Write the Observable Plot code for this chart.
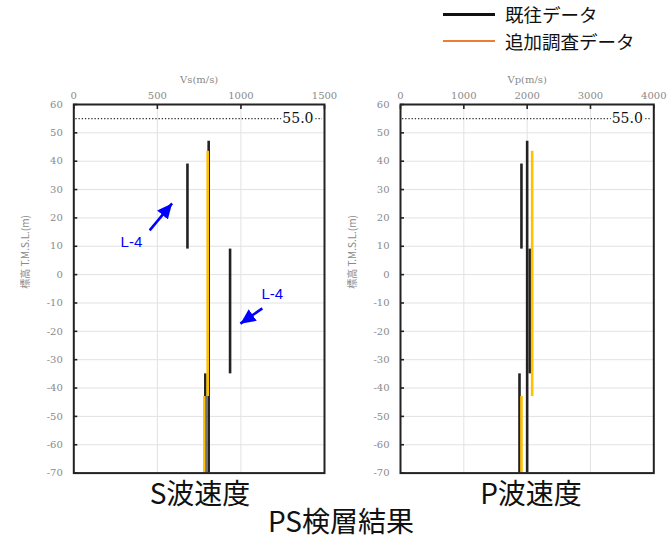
<!DOCTYPE html>
<html>
<head>
<meta charset="utf-8">
<script src="https://cdn.jsdelivr.net/npm/d3@7"></script>
<script src="https://cdn.jsdelivr.net/npm/@observablehq/plot@0.6"></script>
<style>
  html, body { margin: 0; padding: 0; background: #fff; }
  #root { position: relative; width: 668px; height: 540px; overflow: hidden; font-family: "Noto Sans CJK JP", "Noto Sans", sans-serif; }
  .panel { position: absolute; top: 60px; }
  .legend-row { position: absolute; left: 443px; height: 20px; display: flex; align-items: center; font-size: 18.5px; color: #111; white-space: nowrap; }
  .legend-line { display: inline-block; width: 52px; margin-right: 10px; }
  .caption { position: absolute; font-size: 28px; line-height: 28px; color: #111; text-align: center; white-space: nowrap; }
</style>
</head>
<body>
<div id="root">
  <div id="legend"></div>
  <div id="left" class="panel" style="left:0px"></div>
  <div id="right" class="panel" style="left:334px"></div>
  <div id="captions"></div>
</div>
<script>
// ---- data ----
const seriesNames = ["既往データ", "追加調査データ"];
const seriesColors = ["#111111", "#ED7D31"];
const lineColors = ["#222222", "#FFC000"];

// existing survey (既往データ) segments
const existingTop    = [39, 9, -35, 47];
const existingBottom = [9, -35, -70, -70];
const existingVs     = [680, 935, 787, 807];
const existingVp     = [1910, 2042, 1879, 2000];

// additional survey (追加調査データ) segments
const addedTop    = [43.5, -43];
const addedBottom = [-43, -70];
const addedVs     = [801, 781];
const addedVp     = [2079, 1910];

// axes
const yTicks  = [-70, -60, -50, -40, -30, -20, -10, 0, 10, 20, 30, 40, 50, 60];
const vsTicks = [0, 500, 1000, 1500];
const vpTicks = [0, 1000, 2000, 3000, 4000];
const vsLabel = "Vs(m/s)";
const vpLabel = "Vp(m/s)";
const yLabel  = "標高 T.M.S.L.(m)";

// reference level
const levelValues = [55];
const levelLabels = ["55.0"];

// L-4 annotations on the Vs panel (data coords)
const noteText = ["L-4", "L-4"];
const noteTextX = [345, 1188];
const noteTextY = [11.4, -7];
const noteFromX = [454, 1128];
const noteFromY = [15.6, -11.9];
const noteToX   = [588, 997];
const noteToY   = [25.1, -17.3];

const panelTitles = ["S波速度", "P波速度"];
const figureTitle = "PS検層結果";

// ---- build tables ----
const existing = existingTop.map((t, i) => ({top: t, bottom: existingBottom[i], vs: existingVs[i], vp: existingVp[i]}));
const added = addedTop.map((t, i) => ({top: t, bottom: addedBottom[i], vs: addedVs[i], vp: addedVp[i]}));
const levels = levelValues.map((v, i) => ({y: v, label: levelLabels[i]}));
const notes = noteText.map((t, i) => ({text: t, tx: noteTextX[i], ty: noteTextY[i], x1: noteFromX[i], y1: noteFromY[i], x2: noteToX[i], y2: noteToY[i]}));

const serif = "'DejaVu Serif', 'Liberation Serif', serif";
const plain = d => String(d);

function triangleMarker(color) {
  const ns = "http://www.w3.org/2000/svg";
  const m = document.createElementNS(ns, "marker");
  m.setAttribute("viewBox", "-15 -7 15 14");
  m.setAttribute("markerUnits", "userSpaceOnUse");
  m.setAttribute("markerWidth", "15");
  m.setAttribute("markerHeight", "14");
  m.setAttribute("refX", "0");
  m.setAttribute("refY", "0");
  m.setAttribute("orient", "auto");
  const p = document.createElementNS(ns, "path");
  p.setAttribute("d", "M-15,-7L0,0L-15,7Z");
  p.setAttribute("fill", color);
  p.setAttribute("stroke", "none");
  m.appendChild(p);
  return m;
}

function panel({key, xDomain, xTicks, xLabel, marginLeft, marginRight, withNotes}) {
  const marks = [
    Plot.gridX(xTicks, {stroke: "#e2e2e2", strokeOpacity: 1}),
    Plot.gridY(yTicks, {stroke: "#e2e2e2", strokeOpacity: 1}),
    Plot.axisX(xTicks, {anchor: "top", tickSize: 0, tickPadding: 6, label: null, fill: "#8a8a8a", fontFamily: serif, fontSize: 10, tickFormat: plain}),
    Plot.axisX(xTicks, {anchor: "top", tickSize: 4, dy: 4, fill: "none", label: null, stroke: "#222", strokeWidth: 1.6}),
    Plot.axisY(yTicks, {anchor: "left", tickSize: 0, tickPadding: 11, label: null, fill: "#8a8a8a", fontFamily: serif, fontSize: 10, tickFormat: plain}),
    Plot.axisY(yTicks, {anchor: "left", tickSize: 4, dx: 4, fill: "none", label: null, stroke: "#222", strokeWidth: 1.6}),
    Plot.text([xLabel], {text: d => d, frameAnchor: "top", dy: -29, fill: "#8a8a8a", fontFamily: serif, fontSize: 10}),
    Plot.text([yLabel], {text: d => d, frameAnchor: "left", rotate: -90, dx: -48, fill: "#8a8a8a", fontFamily: "'Noto Sans CJK JP', serif", fontSize: 10}),
    Plot.ruleY(levels, {y: "y", stroke: "#333", strokeWidth: 1.3, strokeDasharray: "1.3,1.9", inset: 2}),
    Plot.text(levels, {y: "y", text: "label", frameAnchor: "right", textAnchor: "end", dx: -11, fill: "#111", stroke: "white", strokeWidth: 5, fontFamily: serif, fontSize: 14}),
    Plot.ruleX(existing, {x: key, y1: "top", y2: "bottom", stroke: lineColors[0], strokeWidth: 2.6}),
    Plot.ruleX(added, {x: key, y1: "top", y2: "bottom", stroke: lineColors[1], strokeWidth: 2.6}),
    Plot.frame({stroke: "#222", strokeWidth: 2})
  ];
  if (withNotes) {
    marks.push(
      Plot.link(notes, {x1: "x1", y1: "y1", x2: "x2", y2: "y2", stroke: "#0000FF", strokeWidth: 2.6, markerEnd: triangleMarker}),
      Plot.text(notes, {x: "tx", y: "ty", text: "text", fill: "#0000FF", fontFamily: "'Liberation Sans', Arial, sans-serif", fontSize: 15})
    );
  }
  return Plot.plot({
    width: 334,
    height: 420,
    marginTop: 44,
    marginBottom: 7.4,
    marginLeft,
    marginRight,
    x: {domain: xDomain},
    y: {domain: [-70, 60]},
    style: {background: "transparent", overflow: "visible"},
    marks
  });
}

document.getElementById("left").appendChild(panel({key: "vs", xDomain: [0, 1500], xTicks: vsTicks, xLabel: vsLabel, marginLeft: 73.3, marginRight: 10, withNotes: true}));
document.getElementById("right").appendChild(panel({key: "vp", xDomain: [0, 4000], xTicks: vpTicks, xLabel: vpLabel, marginLeft: 66, marginRight: 14.7, withNotes: false}));

// legend
const legend = document.getElementById("legend");
const legendTops = [4, 31];
const legendThick = [3, 2];
seriesNames.forEach((name, i) => {
  const row = document.createElement("div");
  row.className = "legend-row";
  row.style.top = legendTops[i] + "px";
  const line = document.createElement("span");
  line.className = "legend-line";
  line.style.borderTop = `${legendThick[i]}px solid ${seriesColors[i]}`;
  row.appendChild(line);
  const t = document.createElement("span");
  t.textContent = name;
  row.appendChild(t);
  legend.appendChild(row);
});

// captions
const caps = document.getElementById("captions");
const capSpecs = [
  {text: panelTitles[0], cx: 200, top: 478},
  {text: panelTitles[1], cx: 531, top: 478},
  {text: figureTitle, cx: 341, top: 506}
];
capSpecs.forEach(c => {
  const d = document.createElement("div");
  d.className = "caption";
  d.textContent = c.text;
  d.style.left = (c.cx - 150) + "px";
  d.style.width = "300px";
  d.style.top = c.top + "px";
  caps.appendChild(d);
});
</script>
</body>
</html>
